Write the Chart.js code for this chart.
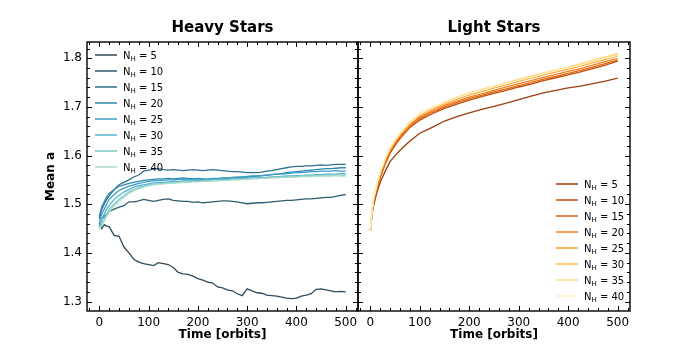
<!DOCTYPE html>
<html>
<head>
<meta charset="utf-8">
<script src="https://cdn.jsdelivr.net/npm/chart.js@4.4.1/dist/chart.umd.min.js"></script>
<style>
  body { margin: 0; background: #fff; }
  #wrap { position: relative; width: 700px; height: 350px; }
  canvas { position: absolute; left: 0; top: 0; }
</style>
</head>
<body>
<div id="wrap">
  <canvas id="heavyChart" width="700" height="350"></canvas>
  <canvas id="lightChart" width="700" height="350"></canvas>
</div>
<script>
// ---- data ----
const nhLabels = [5, 10, 15, 20, 25, 30, 35, 40];
const xTicks = [0, 100, 200, 300, 400, 500];
const yTicks = [1.3, 1.4, 1.5, 1.6, 1.7, 1.8];

const timeHeavy = [0, 5, 10, 15, 20, 30, 40, 50, 60, 70, 80, 90, 100, 110, 120, 130, 140, 150, 160, 170,
  180, 190, 200, 210, 220, 230, 240, 250, 260, 270, 280, 290, 300, 310, 320, 330, 340, 350, 360, 370,
  380, 390, 400, 410, 420, 430, 440, 450, 460, 470, 480, 490, 500];

const heavy5 = [1.462, 1.450, 1.458, 1.455, 1.454, 1.436, 1.434, 1.412, 1.400, 1.387, 1.381, 1.378, 1.376, 1.374,
  1.380, 1.378, 1.376, 1.370, 1.360, 1.357, 1.356, 1.352, 1.347, 1.344, 1.340, 1.338, 1.330, 1.328, 1.324, 1.322,
  1.316, 1.312, 1.326, 1.322, 1.318, 1.317, 1.313, 1.312, 1.311, 1.309, 1.307, 1.306, 1.307, 1.311, 1.313, 1.316,
  1.325, 1.326, 1.324, 1.322, 1.320, 1.321, 1.320];
const heavy10 = [1.455, 1.470, 1.475, 1.480, 1.485, 1.490, 1.494, 1.497, 1.505, 1.505, 1.507, 1.510, 1.508, 1.506,
  1.508, 1.510, 1.511, 1.508, 1.507, 1.506, 1.506, 1.504, 1.505, 1.503, 1.504, 1.505, 1.506, 1.507, 1.507, 1.506,
  1.505, 1.503, 1.501, 1.502, 1.503, 1.503, 1.504, 1.505, 1.506, 1.507, 1.508, 1.508, 1.509, 1.510, 1.511, 1.511,
  1.512, 1.513, 1.514, 1.514, 1.516, 1.518, 1.520];
const heavy15 = [1.470, 1.490, 1.500, 1.510, 1.517, 1.530, 1.540, 1.545, 1.550, 1.556, 1.560, 1.568, 1.570, 1.572,
  1.573, 1.571, 1.570, 1.571, 1.570, 1.569, 1.570, 1.571, 1.570, 1.569, 1.570, 1.571, 1.570, 1.569, 1.568, 1.567,
  1.567, 1.566, 1.565, 1.565, 1.565, 1.566, 1.568, 1.569, 1.571, 1.573, 1.575, 1.577, 1.578, 1.578, 1.579, 1.579,
  1.580, 1.581, 1.580, 1.581, 1.582, 1.582, 1.582];
const heavy20 = [1.475, 1.495, 1.505, 1.515, 1.522, 1.530, 1.537, 1.540, 1.543, 1.545, 1.547, 1.549, 1.550, 1.551,
  1.552, 1.552, 1.553, 1.552, 1.553, 1.554, 1.553, 1.552, 1.553, 1.552, 1.551, 1.552, 1.552, 1.553, 1.553, 1.554,
  1.554, 1.555, 1.556, 1.557, 1.558, 1.559, 1.560, 1.561, 1.562, 1.563, 1.565, 1.566, 1.567, 1.568, 1.569, 1.570,
  1.571, 1.572, 1.573, 1.573, 1.574, 1.575, 1.575];
const heavy25 = [1.460, 1.480, 1.490, 1.500, 1.510, 1.520, 1.528, 1.533, 1.537, 1.540, 1.543, 1.545, 1.547, 1.548,
  1.549, 1.549, 1.550, 1.550, 1.551, 1.551, 1.550, 1.551, 1.552, 1.551, 1.552, 1.553, 1.553, 1.554, 1.554, 1.555,
  1.556, 1.556, 1.557, 1.558, 1.558, 1.559, 1.560, 1.561, 1.562, 1.562, 1.563, 1.564, 1.565, 1.565, 1.566, 1.567,
  1.567, 1.568, 1.568, 1.568, 1.569, 1.568, 1.568];
const heavy30 = [1.455, 1.470, 1.480, 1.490, 1.497, 1.510, 1.518, 1.525, 1.530, 1.535, 1.538, 1.540, 1.542, 1.544,
  1.545, 1.545, 1.546, 1.547, 1.547, 1.548, 1.548, 1.548, 1.549, 1.549, 1.550, 1.550, 1.550, 1.551, 1.551, 1.552,
  1.552, 1.553, 1.553, 1.554, 1.554, 1.555, 1.555, 1.556, 1.556, 1.557, 1.558, 1.558, 1.559, 1.559, 1.560, 1.560,
  1.561, 1.561, 1.562, 1.562, 1.562, 1.563, 1.563];
const heavy35 = [1.450, 1.460, 1.470, 1.480, 1.490, 1.500, 1.510, 1.518, 1.525, 1.530, 1.534, 1.537, 1.540, 1.541,
  1.542, 1.543, 1.544, 1.544, 1.545, 1.546, 1.546, 1.547, 1.547, 1.548, 1.548, 1.549, 1.549, 1.550, 1.550, 1.551,
  1.551, 1.552, 1.552, 1.553, 1.553, 1.554, 1.554, 1.555, 1.555, 1.556, 1.556, 1.557, 1.557, 1.558, 1.558, 1.559,
  1.559, 1.559, 1.560, 1.560, 1.560, 1.560, 1.560];
const heavy40 = [1.450, 1.455, 1.465, 1.475, 1.485, 1.497, 1.505, 1.515, 1.522, 1.528, 1.532, 1.535, 1.538, 1.540,
  1.541, 1.542, 1.543, 1.544, 1.544, 1.545, 1.545, 1.546, 1.546, 1.547, 1.547, 1.548, 1.548, 1.549, 1.549, 1.550,
  1.550, 1.551, 1.551, 1.552, 1.552, 1.553, 1.553, 1.554, 1.554, 1.555, 1.555, 1.556, 1.556, 1.557, 1.557, 1.557,
  1.558, 1.558, 1.558, 1.558, 1.559, 1.558, 1.558];

const timeLight = [0, 3, 6, 10, 15, 20, 30, 40, 50, 60, 80, 100, 125, 150, 175, 200, 225, 250, 275, 300,
  325, 350, 375, 400, 425, 450, 475, 500];

const light5 = [1.445, 1.475, 1.495, 1.512, 1.530, 1.545, 1.568, 1.588, 1.600, 1.611, 1.630, 1.646, 1.658, 1.671,
  1.680, 1.688, 1.695, 1.701, 1.708, 1.715, 1.722, 1.729, 1.734, 1.739, 1.743, 1.748, 1.753, 1.759];
const light10 = [1.445, 1.478, 1.502, 1.519, 1.538, 1.555, 1.583, 1.605, 1.621, 1.635, 1.658, 1.673, 1.686, 1.697,
  1.706, 1.714, 1.721, 1.728, 1.734, 1.741, 1.747, 1.754, 1.760, 1.766, 1.772, 1.779, 1.786, 1.794];
const light15 = [1.445, 1.479, 1.503, 1.520, 1.540, 1.557, 1.585, 1.607, 1.623, 1.637, 1.660, 1.676, 1.689, 1.700,
  1.709, 1.717, 1.724, 1.731, 1.737, 1.744, 1.750, 1.757, 1.763, 1.769, 1.775, 1.782, 1.789, 1.796];
const light20 = [1.445, 1.480, 1.505, 1.522, 1.542, 1.560, 1.588, 1.610, 1.626, 1.640, 1.663, 1.679, 1.692, 1.703,
  1.712, 1.720, 1.727, 1.734, 1.741, 1.748, 1.754, 1.761, 1.767, 1.773, 1.779, 1.786, 1.793, 1.800];
const light25 = [1.445, 1.481, 1.507, 1.524, 1.545, 1.563, 1.591, 1.613, 1.629, 1.643, 1.666, 1.683, 1.696, 1.707,
  1.716, 1.725, 1.732, 1.739, 1.746, 1.753, 1.759, 1.766, 1.772, 1.778, 1.784, 1.791, 1.798, 1.805];
const light30 = [1.445, 1.482, 1.508, 1.526, 1.547, 1.565, 1.593, 1.615, 1.631, 1.645, 1.668, 1.685, 1.698, 1.710,
  1.719, 1.728, 1.735, 1.742, 1.749, 1.756, 1.762, 1.769, 1.775, 1.781, 1.787, 1.794, 1.801, 1.808];
const light35 = [1.445, 1.483, 1.509, 1.527, 1.548, 1.566, 1.594, 1.616, 1.632, 1.646, 1.669, 1.686, 1.699, 1.710,
  1.720, 1.729, 1.736, 1.743, 1.750, 1.757, 1.764, 1.770, 1.776, 1.782, 1.789, 1.796, 1.803, 1.810];
const light40 = [1.445, 1.483, 1.509, 1.527, 1.548, 1.566, 1.594, 1.616, 1.632, 1.646, 1.668, 1.685, 1.698, 1.709,
  1.718, 1.727, 1.734, 1.741, 1.748, 1.755, 1.761, 1.768, 1.774, 1.780, 1.786, 1.793, 1.800, 1.806];

const heavyColors = ["#2f4a5a", "#335b70", "#2f6f8f", "#2f86ad", "#3b9ec6", "#56b4cf", "#78c7cb", "#a8ddc9"];
const lightColors = ["#9c3d0f", "#c24e0a", "#dd6410", "#f27f1c", "#fb9e2e", "#fdbf4e", "#fedd8a", "#fff1bd"];

const heavySeries = [heavy5, heavy10, heavy15, heavy20, heavy25, heavy30, heavy35, heavy40];
const lightSeries = [light5, light10, light15, light20, light25, light30, light35, light40];

Chart.defaults.font.family = "'DejaVu Sans', sans-serif";
Chart.defaults.font.size = 12;
Chart.defaults.color = "#000";

// frame, inward ticks, titles and legend with subscripts
const panelPlugin = {
  id: "panel",
  afterDatasetsDraw(chart, args, opts) {
    const ctx = chart.ctx;
    const a = chart.chartArea;
    const xs = chart.scales.x, ys = chart.scales.y;
    ctx.save();
    ctx.strokeStyle = "#000";
    ctx.lineWidth = 1;
    ctx.beginPath();
    for (let v = -20; v <= 520; v += 20) {
      const px = Math.round(xs.getPixelForValue(v)) + 0.5;
      const len = v % 100 === 0 ? 5 : 3;
      ctx.moveTo(px, a.bottom); ctx.lineTo(px, a.bottom - len);
      ctx.moveTo(px, a.top); ctx.lineTo(px, a.top + len);
    }
    for (let i = 0; i <= 26; i++) {
      const v = 1.3 + i * 0.02;
      const py = Math.round(ys.getPixelForValue(v)) + 0.5;
      const len = i % 5 === 0 ? 5 : 3;
      ctx.moveTo(a.left, py); ctx.lineTo(a.left + len, py);
      ctx.moveTo(a.right, py); ctx.lineTo(a.right - len, py);
    }
    ctx.stroke();
    ctx.lineWidth = 1.4;
    ctx.strokeRect(a.left, a.top, a.right - a.left, a.bottom - a.top);

    const cx = (a.left + a.right) / 2;
    ctx.fillStyle = "#000";
    ctx.textAlign = "center";
    ctx.textBaseline = "middle";
    ctx.font = "bold 15px 'DejaVu Sans'";
    ctx.fillText(opts.title, cx, 28);
    ctx.font = "bold 12px 'DejaVu Sans'";
    ctx.fillText("Time [orbits]", cx, 335);
    if (opts.yLabel) {
      ctx.save();
      ctx.translate(51, (a.top + a.bottom) / 2);
      ctx.rotate(-Math.PI / 2);
      ctx.fillText(opts.yLabel, 0, 0);
      ctx.restore();
    }

    // legend
    ctx.textAlign = "left";
    ctx.textBaseline = "alphabetic";
    chart.data.datasets.forEach((ds, i) => {
      const ly = opts.legendY + i * 16;
      ctx.strokeStyle = ds.borderColor;
      ctx.lineWidth = 1.5;
      ctx.beginPath();
      ctx.moveTo(opts.legendX, ly);
      ctx.lineTo(opts.legendX + 22, ly);
      ctx.stroke();
      let tx = opts.legendX + 28;
      const base = ly + 3.5;
      ctx.font = "10px 'DejaVu Sans'";
      ctx.fillText("N", tx, base);
      tx += ctx.measureText("N").width;
      ctx.font = "7px 'DejaVu Sans'";
      ctx.fillText("H", tx, base + 2);
      tx += ctx.measureText("H").width;
      ctx.font = "10px 'DejaVu Sans'";
      ctx.fillText(" = " + ds.label, tx, base);
    });
    ctx.restore();
  }
};

function makeDatasets(series, times, colors) {
  return series.map((vals, i) => ({
    label: String(nhLabels[i]),
    data: vals.map((v, j) => ({ x: times[j], y: v })),
    borderColor: colors[i],
    borderWidth: 1.3,
    pointRadius: 0,
    tension: 0,
    order: series.length - i
  }));
}

function makeChart(id, datasets, opts) {
  return new Chart(document.getElementById(id), {
    type: "line",
    data: { datasets },
    options: {
      responsive: false,
      animation: false,
      layout: { padding: { left: 0, top: 42, right: opts.padRight, bottom: 0 } },
      plugins: {
        legend: { display: false },
        tooltip: { enabled: false },
        panel: { title: opts.title, yLabel: opts.yLabel, legendX: opts.legendX, legendY: opts.legendY }
      },
      scales: {
        x: {
          type: "linear",
          min: -25, max: 525,
          afterBuildTicks: s => { s.ticks = xTicks.map(v => ({ value: v })); },
          afterFit: s => { s.height = 39; },
          grid: { display: false, drawTicks: false },
          border: { display: false },
          ticks: { padding: 5, font: { size: 12 }, maxRotation: 0 }
        },
        y: {
          min: 1.2805, max: 1.8335,
          afterBuildTicks: s => { s.ticks = yTicks.map(v => ({ value: v })); },
          afterFit: s => { s.width = opts.yWidth; },
          grid: { display: false, drawTicks: false },
          border: { display: false },
          ticks: { display: opts.showYTicks, padding: 5, font: { size: 12 }, callback: v => v.toFixed(1) }
        }
      }
    },
    plugins: [panelPlugin]
  });
}

makeChart("heavyChart", makeDatasets(heavySeries, timeHeavy, heavyColors), {
  title: "Heavy Stars", yLabel: "Mean a", padRight: 342, yWidth: 87, showYTicks: true,
  legendX: 95, legendY: 55
});
makeChart("lightChart", makeDatasets(lightSeries, timeLight, lightColors), {
  title: "Light Stars", yLabel: null, padRight: 70, yWidth: 358, showYTicks: false,
  legendX: 556, legendY: 184
});
</script>
</body>
</html>
